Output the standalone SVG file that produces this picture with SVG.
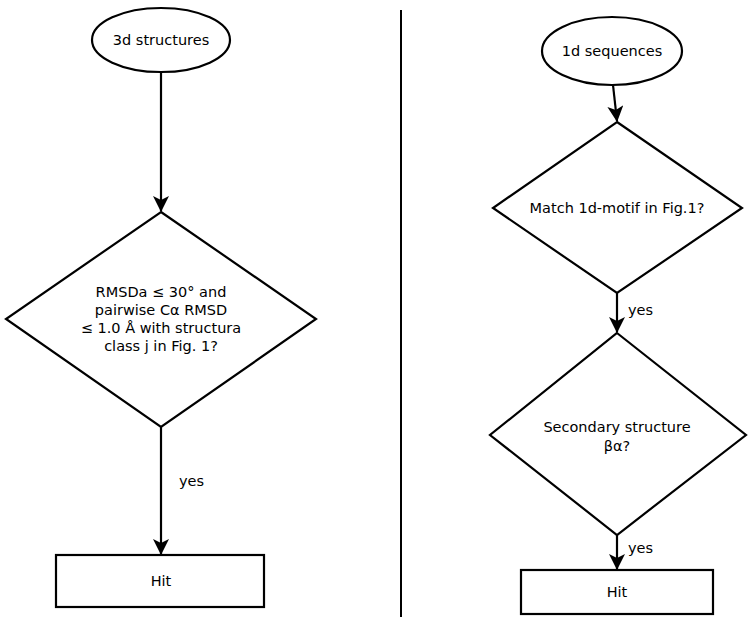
<svg xmlns="http://www.w3.org/2000/svg" width="750" height="621" viewBox="0 0 750 621">
<style>
.shape{fill:#fff;stroke:#000;stroke-width:2.2}
.conn{fill:none;stroke:#000;stroke-width:2.2}
text{font-family:"DejaVu Sans","Liberation Sans",sans-serif;font-size:14.5px;fill:#000}
.c{text-anchor:middle}
</style>
<defs>
<marker id="arr" markerUnits="userSpaceOnUse" markerWidth="16" markerHeight="16" viewBox="0 0 16 16" refX="15" refY="8" orient="auto">
<path d="M0,0 L16,8 L0,16 L4,8 z" fill="#000"/>
</marker>
</defs>
<line x1="401" y1="10" x2="401" y2="617" stroke="#000" stroke-width="2"/>
<g id="connectors">
<line class="conn" x1="161" y1="72" x2="161" y2="211" marker-end="url(#arr)"/>
<line class="conn" x1="161" y1="427" x2="161" y2="554" marker-end="url(#arr)"/>
<line class="conn" x1="613" y1="85" x2="617" y2="121" marker-end="url(#arr)"/>
<line class="conn" x1="617" y1="293" x2="617" y2="332" marker-end="url(#arr)"/>
<line class="conn" x1="617" y1="535" x2="617" y2="569" marker-end="url(#arr)"/>
<text x="179" y="486">yes</text>
<text x="628" y="315">yes</text>
<text x="628" y="553">yes</text>
</g>
<g id="n3d">
<ellipse class="shape" cx="161" cy="40" rx="69" ry="32"/>
<text class="c" x="161" y="45">3d structures</text>
</g>
<g id="d1">
<polygon class="shape" points="161,212 316,319 161,427 6,319"/>
<text class="c" x="161" y="297">RMSDa ≤ 30° and</text>
<text class="c" x="161" y="315">pairwise Cα RMSD</text>
<text class="c" x="161" y="333">≤ 1.0 Å with structura</text>
<text class="c" x="161" y="351">class j in Fig. 1?</text>
</g>
<g id="hit1">
<rect class="shape" x="56" y="555" width="208" height="52"/>
<text class="c" x="161" y="586">Hit</text>
</g>
<g id="n1d">
<ellipse class="shape" cx="612" cy="51" rx="70" ry="34"/>
<text class="c" x="612" y="56">1d sequences</text>
</g>
<g id="d2">
<polygon class="shape" points="617,122 742,208 617,293 493,208"/>
<text class="c" x="617" y="213">Match 1d-motif in Fig.1?</text>
</g>
<g id="d3">
<polygon class="shape" points="617,333 746,435 617,535 490,435"/>
<text class="c" x="617" y="432">Secondary structure</text>
<text class="c" x="617" y="451">βα?</text>
</g>
<g id="hit2">
<rect class="shape" x="521" y="570" width="192" height="44"/>
<text class="c" x="617" y="597">Hit</text>
</g>
</svg>
